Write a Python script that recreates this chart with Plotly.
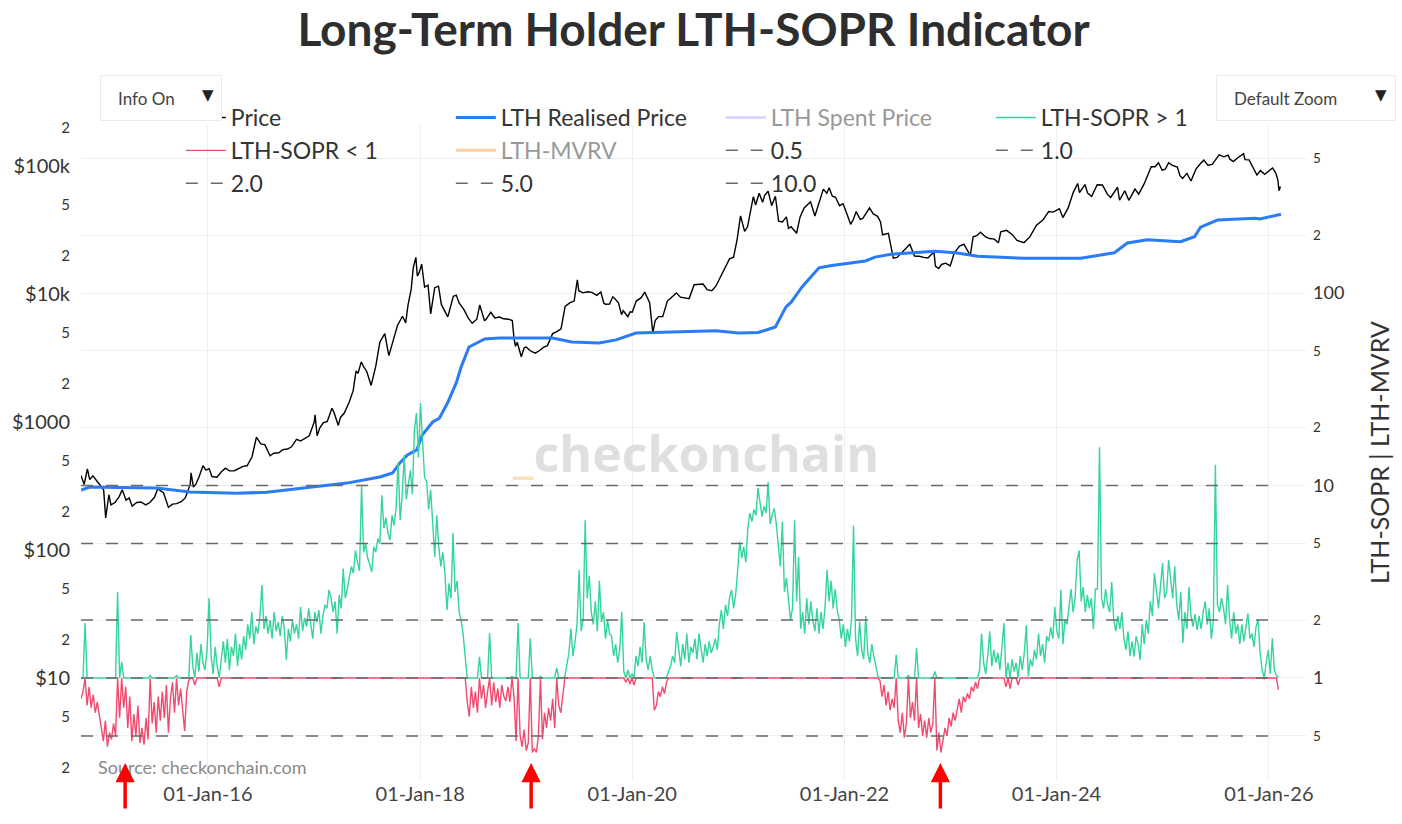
import numpy as np
import pandas as pd
import plotly.graph_objects as go

# ---------------- data ----------------
price_2014 = [("2014-10-21", 382), ("2014-11-01", 325), ("2014-11-12", 430), ("2014-11-20", 355),
              ("2014-12-01", 380), ("2014-12-15", 345), ("2014-12-28", 318)]
price_2015 = [("2015-01-07", 295), ("2015-01-14", 178), ("2015-01-25", 270), ("2015-02-01", 225),
              ("2015-02-15", 235), ("2015-03-01", 260), ("2015-03-12", 295), ("2015-03-25", 245),
              ("2015-04-05", 255), ("2015-04-15", 220), ("2015-05-01", 235), ("2015-05-15", 237),
              ("2015-06-01", 225), ("2015-06-15", 235), ("2015-07-01", 258), ("2015-07-12", 300),
              ("2015-08-01", 280), ("2015-08-18", 215), ("2015-09-01", 228), ("2015-09-15", 230),
              ("2015-10-01", 238), ("2015-10-15", 255), ("2015-11-01", 325), ("2015-11-04", 400),
              ("2015-11-12", 310), ("2015-11-20", 325), ("2015-12-01", 370), ("2015-12-15", 455),
              ("2015-12-25", 420)]
price_2016 = [("2016-01-05", 432), ("2016-01-15", 375), ("2016-02-01", 370), ("2016-02-15", 405),
              ("2016-03-01", 435), ("2016-03-15", 415), ("2016-04-01", 416), ("2016-04-15", 430),
              ("2016-05-01", 450), ("2016-05-15", 455), ("2016-06-01", 535), ("2016-06-16", 760),
              ("2016-07-01", 675), ("2016-07-15", 665), ("2016-08-02", 545), ("2016-08-15", 570),
              ("2016-09-01", 575), ("2016-09-15", 608), ("2016-10-01", 615), ("2016-10-15", 640),
              ("2016-11-01", 730), ("2016-11-15", 710), ("2016-12-01", 750), ("2016-12-15", 780)]
price_2017 = [("2017-01-01", 1000), ("2017-01-04", 1135), ("2017-01-11", 780), ("2017-01-20", 895),
              ("2017-02-01", 985), ("2017-02-15", 1010), ("2017-03-03", 1280), ("2017-03-10", 1190),
              ("2017-03-25", 940), ("2017-04-01", 1080), ("2017-04-15", 1180), ("2017-05-01", 1420),
              ("2017-05-15", 1750), ("2017-05-25", 2500), ("2017-06-01", 2400), ("2017-06-12", 2950),
              ("2017-06-20", 2700), ("2017-07-01", 2480), ("2017-07-16", 1930), ("2017-08-01", 2730),
              ("2017-08-15", 4200), ("2017-09-01", 4900), ("2017-09-15", 3300), ("2017-10-01", 4400),
              ("2017-10-15", 5700), ("2017-11-01", 6700), ("2017-11-12", 5950), ("2017-11-20", 8200),
              ("2017-12-01", 10900), ("2017-12-08", 16000), ("2017-12-17", 19300), ("2017-12-22", 13800),
              ("2017-12-28", 14600)]
price_2018 = [("2018-01-06", 17100), ("2018-01-16", 11300), ("2018-01-28", 11700), ("2018-02-06", 7000),
              ("2018-02-20", 11200), ("2018-03-05", 11500), ("2018-03-15", 8250), ("2018-04-01", 6900),
              ("2018-04-06", 6630), ("2018-04-25", 9600), ("2018-05-05", 9800), ("2018-05-15", 8500),
              ("2018-06-01", 7500), ("2018-06-15", 6500), ("2018-06-29", 5900), ("2018-07-15", 6350),
              ("2018-07-25", 8200), ("2018-08-10", 6200), ("2018-08-15", 6300), ("2018-09-01", 7200),
              ("2018-09-15", 6500), ("2018-10-01", 6600), ("2018-10-15", 6400), ("2018-11-01", 6350),
              ("2018-11-14", 6200), ("2018-11-20", 4500), ("2018-11-25", 3900), ("2018-12-01", 4200),
              ("2018-12-15", 3230), ("2018-12-25", 3800)]
price_2019 = [("2019-01-01", 3850), ("2019-01-15", 3600), ("2019-02-01", 3450), ("2019-02-15", 3600),
              ("2019-03-01", 3820), ("2019-03-15", 3950), ("2019-04-02", 4900), ("2019-04-15", 5050),
              ("2019-05-01", 5350), ("2019-05-15", 8000), ("2019-06-01", 8550), ("2019-06-15", 8800),
              ("2019-06-26", 12900), ("2019-07-01", 10600), ("2019-07-15", 10200), ("2019-08-01", 10400),
              ("2019-08-15", 10300), ("2019-09-01", 9750), ("2019-09-15", 10350), ("2019-09-25", 8500),
              ("2019-10-01", 8300), ("2019-10-15", 8350), ("2019-10-26", 9500), ("2019-11-01", 9250),
              ("2019-11-15", 8500), ("2019-11-25", 6900), ("2019-12-01", 7400), ("2019-12-17", 6650),
              ("2019-12-25", 7250)]
price_2020 = [("2020-01-01", 7200), ("2020-01-15", 8800), ("2020-02-01", 9350), ("2020-02-13", 10350),
              ("2020-03-01", 8550), ("2020-03-12", 4950), ("2020-03-20", 6200), ("2020-04-01", 6650),
              ("2020-04-15", 6650), ("2020-05-01", 8800), ("2020-05-15", 9400), ("2020-06-01", 10200),
              ("2020-06-15", 9450), ("2020-07-01", 9250), ("2020-07-15", 9200), ("2020-08-01", 11800),
              ("2020-08-15", 11900), ("2020-09-01", 11950), ("2020-09-15", 10800), ("2020-10-01", 10600),
              ("2020-10-15", 11500), ("2020-11-01", 13800), ("2020-11-15", 16000), ("2020-12-01", 18800),
              ("2020-12-15", 19400), ("2020-12-27", 26500)]
price_2021 = [("2021-01-08", 40700), ("2021-01-22", 30800), ("2021-02-01", 33500), ("2021-02-15", 48000),
              ("2021-02-21", 57500), ("2021-03-01", 49500), ("2021-03-13", 61200), ("2021-03-25", 52000),
              ("2021-04-01", 59000), ("2021-04-13", 63500), ("2021-04-25", 49000), ("2021-05-08", 58000),
              ("2021-05-19", 37000), ("2021-06-01", 36500), ("2021-06-15", 40000), ("2021-06-22", 32500),
              ("2021-07-01", 33500), ("2021-07-20", 29800), ("2021-08-01", 40000), ("2021-08-15", 47000),
              ("2021-09-06", 52600), ("2021-09-21", 40700), ("2021-10-01", 48000), ("2021-10-20", 65900),
              ("2021-11-01", 61300), ("2021-11-09", 67500), ("2021-11-20", 58000), ("2021-12-01", 57000),
              ("2021-12-15", 48900), ("2021-12-27", 50700)]
price_2022 = [("2022-01-10", 41800), ("2022-01-22", 35000), ("2022-02-01", 38500), ("2022-02-10", 44000),
              ("2022-02-24", 38300), ("2022-03-05", 39000), ("2022-03-28", 47100), ("2022-04-10", 42200),
              ("2022-04-25", 40400), ("2022-05-05", 36500), ("2022-05-12", 29000), ("2022-06-01", 29800),
              ("2022-06-18", 19000), ("2022-07-01", 19300), ("2022-07-15", 20800), ("2022-08-14", 24400),
              ("2022-08-30", 19800), ("2022-09-15", 19700), ("2022-10-01", 19300), ("2022-10-15", 19100),
              ("2022-11-05", 21300), ("2022-11-10", 16500), ("2022-11-21", 15800), ("2022-12-01", 17000),
              ("2022-12-15", 17400), ("2022-12-31", 16550)]
price_2023 = [("2023-01-14", 21000), ("2023-02-01", 23700), ("2023-02-16", 24500), ("2023-03-10", 20000),
              ("2023-03-20", 28000), ("2023-04-01", 28500), ("2023-04-14", 30400), ("2023-05-01", 28000),
              ("2023-05-15", 27100), ("2023-06-01", 26800), ("2023-06-15", 25100), ("2023-06-23", 30600),
              ("2023-07-13", 31400), ("2023-08-01", 29200), ("2023-08-18", 26200), ("2023-09-11", 25200),
              ("2023-10-01", 27900), ("2023-10-24", 34500), ("2023-11-15", 37800), ("2023-12-05", 44000),
              ("2023-12-20", 43600)]
price_2024 = [("2024-01-11", 46300), ("2024-01-23", 39500), ("2024-02-10", 47000), ("2024-02-28", 62500),
              ("2024-03-14", 73000), ("2024-03-20", 62000), ("2024-04-08", 71600), ("2024-04-17", 61300),
              ("2024-05-01", 57800), ("2024-05-20", 71400), ("2024-06-07", 71000), ("2024-06-24", 60200),
              ("2024-07-05", 56500), ("2024-07-29", 68200), ("2024-08-05", 54000), ("2024-08-23", 64000),
              ("2024-09-06", 53900), ("2024-09-27", 66000), ("2024-10-10", 60300), ("2024-10-29", 72700),
              ("2024-11-13", 90000), ("2024-11-22", 98500), ("2024-12-05", 98500), ("2024-12-17", 106000),
              ("2024-12-30", 92500)]
price_2025 = [("2025-01-10", 94700), ("2025-01-21", 106000), ("2025-02-03", 101000), ("2025-02-20", 98000),
              ("2025-03-01", 84000), ("2025-03-10", 80000), ("2025-03-25", 87500), ("2025-04-08", 76300),
              ("2025-04-25", 94500), ("2025-05-10", 104000), ("2025-05-22", 111000), ("2025-06-05", 101500),
              ("2025-06-20", 103000), ("2025-07-14", 122000), ("2025-07-30", 117800), ("2025-08-14", 121500),
              ("2025-08-20", 113000), ("2025-09-01", 108200), ("2025-09-15", 115500), ("2025-10-06", 124700),
              ("2025-10-11", 112000), ("2025-10-25", 111500), ("2025-11-04", 101500), ("2025-11-21", 85000),
              ("2025-12-03", 92000), ("2025-12-18", 86000)]
price_2026 = [("2026-01-05", 93000), ("2026-01-14", 96500), ("2026-01-25", 88000), ("2026-02-01", 78000),
              ("2026-02-05", 64000), ("2026-02-10", 69000)]

realised_points = [("2014-10-21", 294), ("2014-11-20", 310), ("2015-03-03", 308), ("2015-07-08", 305),
                   ("2015-10-31", 284), ("2016-04-08", 278), ("2016-07-22", 282), ("2016-12-28", 310),
                   ("2017-04-23", 333), ("2017-08-15", 372), ("2017-09-28", 400), ("2017-10-23", 479),
                   ("2017-11-18", 552), ("2017-12-20", 605), ("2018-01-08", 791), ("2018-02-13", 1000),
                   ("2018-03-08", 1070), ("2018-04-05", 1406), ("2018-05-05", 2018), ("2018-05-22", 2690),
                   ("2018-06-18", 3850), ("2018-08-11", 4450), ("2018-10-01", 4530), ("2019-04-01", 4530),
                   ("2019-06-07", 4220), ("2019-09-09", 4140), ("2019-11-06", 4380), ("2020-01-14", 4950),
                   ("2020-07-04", 5050), ("2020-10-16", 5150), ("2021-01-01", 4950), ("2021-03-10", 5000),
                   ("2021-05-08", 5520), ("2021-06-13", 7900), ("2021-07-02", 8670), ("2021-08-07", 11300),
                   ("2021-10-05", 16000), ("2021-11-18", 16700), ("2022-03-14", 18100), ("2022-04-16", 19400),
                   ("2022-06-10", 20400), ("2022-11-08", 21600), ("2023-01-18", 21000), ("2023-04-05", 19700),
                   ("2023-09-13", 19000), ("2024-03-24", 19000), ("2024-07-18", 21000), ("2024-09-01", 25000),
                   ("2024-11-09", 26500), ("2025-03-03", 25600), ("2025-04-20", 28000), ("2025-05-11", 33300),
                   ("2025-07-08", 37800), ("2025-11-13", 39000), ("2025-12-01", 38500), ("2026-02-12", 42000)]

# LTH-SOPR, weekly readings starting 2014-10-21
sopr_start = "2014-10-21"
sopr_a = [0.78, 0.85, 1.93, 0.72, 0.9, 0.7, 0.82, 0.66, 0.75, 0.62,
          0.55, 0.47, 0.6, 0.44, 0.52, 0.48, 0.58, 0.5, 2.8, 0.62,
          1.21, 0.7, 0.9, 0.55, 0.8, 0.47, 0.65, 0.5, 0.72, 0.46,
          0.55, 0.45, 0.62, 0.48, 1.03, 0.58, 0.75, 0.52, 0.8, 0.6,
          0.85, 0.62, 0.92, 0.52, 0.78, 0.95, 0.66, 1.03, 0.72, 0.88,
          0.7, 0.53, 0.85, 0.97, 1.67, 1.15, 0.92, 1.35, 1.08, 1.5,
          1.2, 1.1, 1.4, 2.6, 1.3, 1.05, 1.45, 1.15, 0.9, 1.25,
          1.55, 1.2, 1.6, 1.1, 1.45, 1.3, 1.7, 1.15, 1.5, 1.25,
          1.65, 1.4, 1.9, 1.6, 2.2, 1.5, 1.85, 1.7, 2.1, 3.04,
          1.8, 2.1, 1.7, 2.0, 1.6, 2.2, 1.75, 1.95, 1.65, 2.1]
sopr_b = [1.8, 1.24, 1.8, 1.55, 2.0, 1.7, 1.9, 1.6, 2.34, 1.75,
          2.05, 1.85, 2.3, 1.9, 1.6, 2.2, 1.95, 2.25, 1.7, 2.1,
          2.4, 2.3, 2.87, 2.6, 2.2, 2.5, 1.7, 2.7, 2.3, 3.7,
          2.6, 2.9, 3.3, 3.8, 3.5, 4.6, 4.0, 3.6, 9.9, 4.5,
          5.0, 4.2, 3.9, 3.55, 4.8, 4.5, 5.3, 5.0, 8.9, 6.0,
          6.8, 5.66, 5.2, 7.0, 6.2, 7.7, 13.2, 6.6, 9.0, 14.4,
          8.5, 10.5, 12.0, 9.0, 19.4, 23.8, 14.0, 26.8, 16.0, 11.0,
          10.5, 7.5, 9.5, 6.4, 4.25, 7.0, 4.8, 3.8, 4.5, 3.5,
          2.25, 3.1, 2.6, 5.66, 2.8, 3.2, 2.2, 2.0, 1.67, 1.29,
          0.75, 0.63, 0.9, 0.7, 0.85, 0.66, 1.29, 0.78, 0.92, 0.7]
sopr_c = [0.85, 1.71, 0.72, 0.95, 0.75, 0.88, 0.7, 0.92, 0.8, 0.76,
          0.9, 0.75, 1.02, 0.8, 0.47, 1.93, 0.5, 0.44, 0.54, 0.42,
          0.46, 1.61, 0.41, 0.43, 0.41, 0.5, 1.02, 0.48, 0.66, 0.55,
          0.7, 0.6, 0.78, 0.55, 1.13, 0.72, 0.66, 0.85, 1.02, 1.2,
          1.35, 1.8, 1.3, 1.55, 1.9, 3.64, 1.75, 2.0, 6.6, 2.6,
          3.4, 2.2, 1.9, 2.5, 1.75, 3.2, 1.95, 2.2, 1.6, 2.0,
          1.7, 1.65, 1.3, 1.5, 1.2, 1.4, 2.2, 1.08, 0.95, 1.1,
          0.93, 1.05, 0.92, 1.3, 1.15, 1.45, 1.2, 1.95, 1.25, 1.1,
          1.3, 1.1, 0.68, 0.72, 0.85, 0.8, 0.9, 0.83, 0.95, 1.08,
          1.15, 1.3, 1.2, 1.73, 1.4, 1.15, 1.5, 1.25, 1.7, 1.2]
sopr_d = [1.45, 1.35, 1.6, 1.25, 1.7, 1.4, 1.2, 1.5, 1.3, 1.55,
          1.35, 1.45, 1.6, 1.4, 1.9, 2.25, 1.8, 2.4, 2.1, 2.6,
          2.87, 2.3, 2.7, 3.6, 5.1, 4.2, 4.8, 4.0, 6.0, 7.2,
          6.5, 7.5, 7.0, 9.7, 8.1, 6.9, 7.8, 7.2, 10.4, 6.3,
          7.0, 7.6, 6.3, 4.8, 3.8, 6.5, 2.8, 3.3, 2.5, 2.0,
          2.3, 6.6, 2.5, 4.25, 1.8, 2.2, 1.7, 2.6, 1.9, 2.5,
          2.0, 1.75, 2.3, 1.7, 2.2, 1.8, 2.34, 3.64, 2.5, 3.2,
          2.3, 2.9, 2.25, 2.0, 1.6, 1.9, 1.45, 1.8, 1.55, 2.0,
          6.2, 1.6, 1.3, 1.97, 1.4, 1.25, 2.1, 1.35, 1.2, 1.5,
          1.3, 1.15, 1.02, 0.97, 0.8, 0.92, 0.72, 0.85, 0.68, 0.78]
sopr_e = [0.7, 1.32, 0.6, 0.52, 0.66, 0.49, 0.58, 1.03, 0.62, 0.75,
          0.6, 1.43, 0.55, 0.65, 0.5, 0.6, 0.49, 0.62, 0.52, 0.58,
          1.08, 0.42, 0.52, 0.41, 0.47, 0.55, 0.5, 0.62, 0.56, 0.66,
          0.6, 0.7, 0.78, 0.66, 0.8, 0.75, 0.83, 0.78, 0.9, 0.85,
          0.95, 0.88, 1.1, 1.7, 1.2, 1.05, 1.3, 1.75, 1.15, 1.4,
          1.2, 1.35, 1.1, 1.5, 1.93, 0.9, 1.2, 0.88, 1.25, 1.08,
          1.2, 0.92, 1.3, 1.1, 1.35, 1.88, 1.02, 1.25, 1.15, 1.4,
          1.25, 1.7, 1.3, 1.5, 1.2, 1.65, 1.55, 1.84, 1.6, 2.34,
          1.75, 1.6, 2.87, 1.5, 2.0, 1.9, 2.4, 2.9, 2.2, 2.6,
          4.1, 4.6, 2.5, 2.97, 2.2, 2.7, 2.3, 2.6, 1.8, 2.9]
sopr_f = [2.9, 15.8, 2.6, 2.3, 2.9, 2.4, 2.2, 3.15, 2.0, 1.75,
          2.1, 1.8, 2.2, 1.6, 1.4, 1.75, 1.3, 1.55, 1.29, 1.65,
          1.5, 1.24, 1.9, 1.5, 2.0, 1.7, 2.5, 2.1, 3.5, 2.9,
          2.3, 3.0, 3.95, 2.6, 2.8, 4.1, 3.2, 2.6, 3.8, 2.4,
          2.0, 2.8, 1.52, 2.2, 1.8, 2.97, 2.1, 1.85, 2.15, 1.78,
          2.1, 1.8, 2.2, 2.5, 1.9, 2.3, 1.6, 2.0, 12.8, 2.4,
          2.2, 2.6, 2.3, 1.9, 3.04, 2.0, 1.6, 2.2, 1.7, 1.9,
          1.5, 1.9, 1.55, 1.8, 2.17, 1.6, 1.7, 1.45, 1.85, 2.0,
          1.35, 1.1, 0.99, 1.2, 1.4, 1.05, 1.61, 1.1, 1.03, 0.87]

# hidden (legend-only) series: no values are visible in the picture
hidden_values = [None]

levels = [0.5, 1.0, 2.0, 5.0, 10.0]
level_names = ["0.5", "1.0", "2.0", "5.0", "10.0"]
arrow_dates = ["2015-03-22", "2019-01-18", "2022-11-27"]
x_range = ["2014-10-21", "2026-05-09"]

# ---------------- assemble ----------------
price_all = (price_2014 + price_2015 + price_2016 + price_2017 + price_2018 + price_2019 +
             price_2020 + price_2021 + price_2022 + price_2023 + price_2024 + price_2025 + price_2026)
price_dates = [d for d, _ in price_all]
price_values = [v for _, v in price_all]
realised_dates = [d for d, _ in realised_points]
realised_values = [v for _, v in realised_points]

sopr_values = np.array(sopr_a + sopr_b + sopr_c + sopr_d + sopr_e + sopr_f, dtype=float)
sopr_dates = pd.date_range(sopr_start, periods=len(sopr_values), freq="7D")
sopr_above = np.maximum(sopr_values, 1.0)
sopr_below = np.minimum(sopr_values, 1.0)

FONT = "Lato"
TXT = "#333333"

fig = go.Figure()
fig.add_trace(go.Scatter(x=price_dates, y=price_values, name="Price", mode="lines",
                         line=dict(color="black", width=1.4), yaxis="y"))
fig.add_trace(go.Scatter(x=realised_dates, y=realised_values, name="LTH Realised Price", mode="lines",
                         line=dict(color="#2a7cf6", width=3), yaxis="y"))
fig.add_trace(go.Scatter(x=price_dates[:1], y=hidden_values, name="LTH Spent Price", mode="lines",
                         line=dict(color="#b8adff", width=3), yaxis="y", visible="legendonly"))
fig.add_trace(go.Scatter(x=sopr_dates, y=sopr_above, name="LTH-SOPR > 1", mode="lines",
                         line=dict(color="#35d49a", width=1.4), yaxis="y2"))
fig.add_trace(go.Scatter(x=sopr_dates, y=sopr_below, name="LTH-SOPR < 1", mode="lines",
                         line=dict(color="#f2496e", width=1.4), yaxis="y2"))
fig.add_trace(go.Scatter(x=price_dates[:1], y=hidden_values, name="LTH-MVRV", mode="lines",
                         line=dict(color="#ff9f3f", width=3), yaxis="y2", visible="legendonly"))
for lvl, nm in zip(levels, level_names):
    fig.add_trace(go.Scatter(x=[sopr_dates[0], sopr_dates[-1]], y=[lvl, lvl], name=nm, mode="lines",
                             line=dict(color="#6a6a6a", width=1.5, dash="12px,13px"), yaxis="y2"))

plot_top, plot_bottom, plot_left, plot_right = 125, 780, 81, 1308
H = plot_bottom - plot_top
W = plot_right - plot_left


def px_x(p):
    return (p - plot_left) / W


def px_y(p):
    return (plot_bottom - p) / H


annotations = []
# watermark
annotations.append(dict(xref="paper", yref="paper", x=px_x(697), y=px_y(453), xanchor="center",
                        yanchor="middle", showarrow=False,
                        text="<span style='color:#fde0bc'>_</span>checkonchain",
                        font=dict(family="Open Sans", size=50, color="#dfdfdf", weight="bold")))
# source
annotations.append(dict(xref="paper", yref="paper", x=px_x(96), y=px_y(767), xanchor="left",
                        yanchor="middle", showarrow=False, text="Source: checkonchain.com",
                        font=dict(family=FONT, size=18, color="#8a8a8a")))
# red arrows
for d in arrow_dates:
    annotations.append(dict(xref="x", yref="paper", x=d, y=px_y(763), ax=0, ay=47, text="",
                            showarrow=True, arrowhead=2, arrowsize=1.1, arrowwidth=3.5,
                            arrowcolor="#ff0000"))
# dropdown-like boxes
NB = "\u00a0"
annotations.append(dict(xref="paper", yref="paper", x=px_x(100), y=px_y(75), xanchor="left", yanchor="top",
                        showarrow=False, text=NB * 3 + "Info On", align="left", valign="middle",
                        width=112, height=36, borderpad=4, bgcolor="white", bordercolor="#ebebeb",
                        borderwidth=1, font=dict(family=FONT, size=17, color="#444")))
annotations.append(dict(xref="paper", yref="paper", x=px_x(208), y=px_y(95), xanchor="center",
                        yanchor="middle", showarrow=False, text="▼",
                        font=dict(family="DejaVu Sans", size=15, color="#222")))
annotations.append(dict(xref="paper", yref="paper", x=px_x(1218), y=px_y(75), xanchor="left", yanchor="top",
                        showarrow=False, text=NB * 3 + "Default Zoom", align="left", valign="middle",
                        width=170, height=36, borderpad=4, bgcolor="white", bordercolor="#ebebeb",
                        borderwidth=1, font=dict(family=FONT, size=17, color="#444")))
annotations.append(dict(xref="paper", yref="paper", x=px_x(1383), y=px_y(95), xanchor="center",
                        yanchor="middle", showarrow=False, text="▼",
                        font=dict(family="DejaVu Sans", size=15, color="#222")))

fig.update_layout(
    width=1402, height=824,
    margin=dict(l=plot_left, r=1402 - plot_right, t=plot_top, b=824 - plot_bottom),
    paper_bgcolor="white", plot_bgcolor="white",
    font=dict(family=FONT, color=TXT),
    title=dict(text="<b>Long-Term Holder LTH-SOPR Indicator</b>", x=0.5, xref="paper", xanchor="center",
               y=1 - 30 / 824, yref="container", yanchor="middle",
               font=dict(family=FONT, size=46, color="#2e2e2e")),
    showlegend=True,
    legend=dict(orientation="h", x=px_x(181), y=px_y(96), xanchor="left", yanchor="top",
                bgcolor="rgba(0,0,0,0)", entrywidth=215, entrywidthmode="pixels", itemwidth=40,
                font=dict(family=FONT, size=23, color=TXT), traceorder="normal"),
    xaxis=dict(type="date", range=x_range, tickformat="%d-%b-%y", dtick="M24", tick0="2016-01-01",
               showgrid=True, gridcolor="#efefef", gridwidth=1, zeroline=False, showline=False,
               ticks="", tickfont=dict(family=FONT, size=20, color="#444")),
    yaxis=dict(type="log", range=[0.203, 5.32], dtick="D2", showgrid=False, zeroline=False,
               showline=False, ticks="",
               labelalias={"10": "$10", "100": "$100", "1000": "$1000", "1k": "$1000",
                           "10k": "$10k", "100k": "$100k"},
               tickfont=dict(family=FONT, size=20, color="#333"), ticklabelstandoff=10),
    yaxis2=dict(type="log", range=[-0.53, 2.873], dtick="D2", overlaying="y", side="right",
                showgrid=True, gridcolor="#efefef", zeroline=False, showline=False, ticks="",
                tickfont=dict(family=FONT, size=18, color="#333"), ticklabelstandoff=6,
                title=dict(text="LTH-SOPR | LTH-MVRV", font=dict(family=FONT, size=25, color="#333"),
                           standoff=28)),
    annotations=annotations,
)

fig.write_html("out.html")
